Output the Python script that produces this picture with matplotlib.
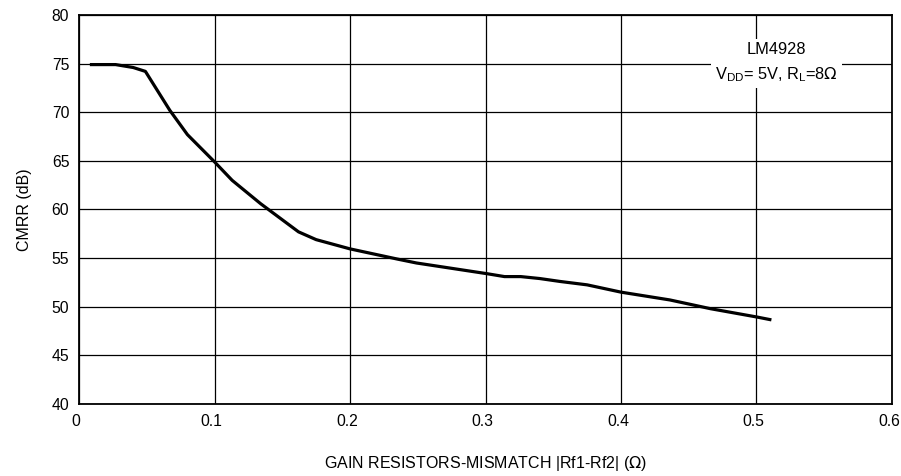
import matplotlib.pyplot as plt
import matplotlib.transforms as mtransforms

plt.rcParams['font.family'] = ['Liberation Sans', 'DejaVu Sans']

# curve
mismatch = [0.008, 0.027, 0.040, 0.049, 0.067, 0.080, 0.100, 0.113, 0.134,
            0.162, 0.175, 0.200, 0.235, 0.249, 0.301, 0.314, 0.326, 0.340,
            0.355, 0.375, 0.400, 0.436, 0.466, 0.500, 0.511]
cmrr = [74.9, 74.9, 74.6, 74.2, 70.2, 67.7, 64.9, 63.0, 60.6,
        57.7, 56.9, 55.95, 54.9, 54.5, 53.4, 53.1, 53.1, 52.9,
        52.6, 52.25, 51.5, 50.7, 49.8, 48.95, 48.65]

x_ticks = [0, 0.1, 0.2, 0.3, 0.4, 0.5, 0.6]
x_labels = ['0', '0.1', '0.2', '0.3', '0.4', '0.5', '0.6']
y_ticks = [40, 45, 50, 55, 60, 65, 70, 75, 80]

fig = plt.figure(figsize=(9.01, 4.76), dpi=100)
ax = fig.add_axes([0.0877, 0.1513, 0.9023, 0.8172])

ax.plot(mismatch, cmrr, color='black', linewidth=2.3, solid_capstyle='butt', zorder=3)

ax.set_xlim(0, 0.6)
ax.set_ylim(40, 80)
ax.set_xticks(x_ticks)
ax.set_xticklabels(x_labels)
ax.set_yticks(y_ticks)
ax.tick_params(length=0, labelsize=11.3, pad=7)
ax.grid(True, color='black', linewidth=0.9)
for s in ax.spines.values():
    s.set_linewidth(1.3)

# x tick labels sit a little left of their grid lines in the original
shift = mtransforms.ScaledTranslation(-3 / 100, 0, fig.dpi_scale_trans)
for lab in ax.get_xticklabels():
    lab.set_transform(lab.get_transform() + shift)

ax.set_ylabel('CMRR (dB)', fontsize=11.5, labelpad=14)
ax.set_xlabel('GAIN RESISTORS-MISMATCH |Rf1-Rf2| ($\\Omega$)', fontsize=11.5, labelpad=18)

ax.text(0.515, 75.1, 'LM4928\nV$_{\\mathregular{DD}}$= 5V, R$_{\\mathregular{L}}$=8$\\Omega$',
        ha='center', va='center', fontsize=11.8, linespacing=1.6, zorder=4,
        bbox=dict(facecolor='white', edgecolor='none', pad=3))

fig.savefig('out.png', dpi=100)
